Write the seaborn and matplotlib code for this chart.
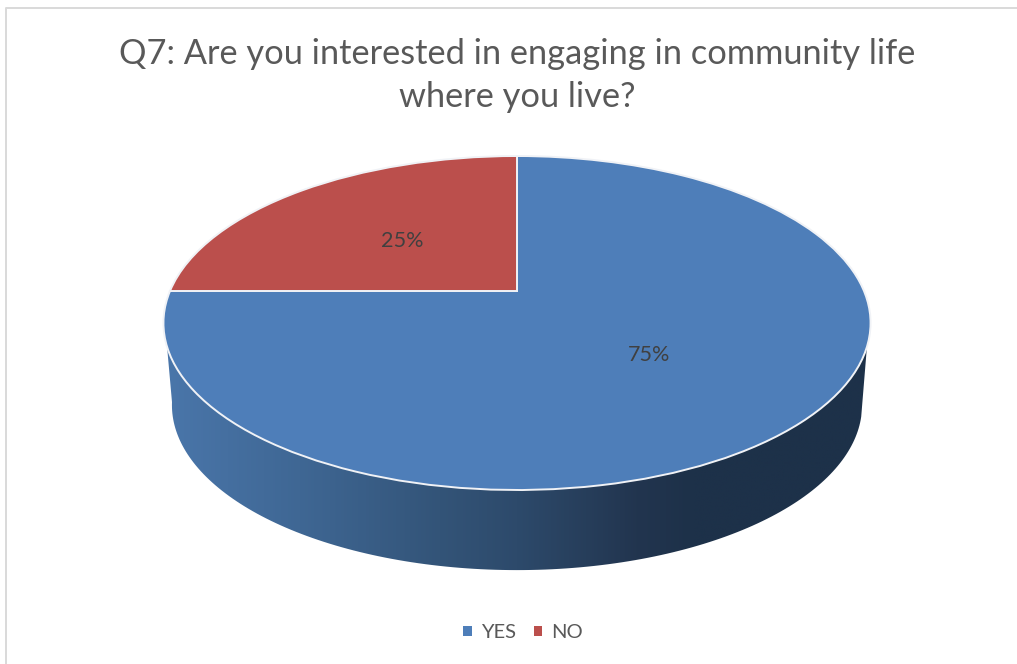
import numpy as np
import matplotlib
matplotlib.use("Agg")
import matplotlib.pyplot as plt
import seaborn as sns
from matplotlib.colors import LinearSegmentedColormap
from matplotlib.patches import Patch, Polygon
from matplotlib.transforms import Affine2D, Transform

categories = ["YES", "NO"]
shares = [75, 25]
chart_title = "Q7: Are you interested in engaging in community life\nwhere you live?"
slice_colors = ["#4e7eb9", "#bb4f4c"]

sns.set_theme(style="white")
plt.rcParams["font.family"] = ["Lato", "DejaVu Sans"]


class PieTilt(Transform):
    """Projects the unit-circle pie onto a tilted plane, in pixel-sized data units."""
    input_dims = 2
    output_dims = 2
    has_inverse = False
    is_separable = False

    def transform_non_affine(self, values):
        u, v = np.asarray(values, dtype=float).T
        w = 1 + 0.1916 * v
        return np.column_stack((517 + 347 * u / w, (291 - 105.1 * v) / w))


tilt = PieTilt()

fig = plt.figure(figsize=(10.17, 6.64), dpi=100, facecolor="white")
ax = fig.add_axes([0, 0, 1, 1])

palette = sns.color_palette(slice_colors)
wedges, _, pct_texts = ax.pie(
    shares,
    colors=palette,
    startangle=90,
    counterclock=False,
    autopct="%d%%",
    pctdistance=0.5,
    wedgeprops={"edgecolor": "#f0f2f6", "linewidth": 1.4, "zorder": 3},
    textprops={"fontsize": 15.6, "color": "#404040", "zorder": 4},
)
for wedge in wedges:
    wedge.set_transform(tilt + ax.transData)
for text in pct_texts:
    text.set_transform(tilt + ax.transData + Affine2D().translate(0, -3))


def rim(degrees):
    angles = np.radians(degrees)
    return tilt.transform_non_affine(np.column_stack((np.cos(angles), np.sin(angles))))


# Side wall of the disc: visible front of the upper rim joined to a lowered copy of it.
upper = rim(np.linspace(199, 341, 160))
lower = rim(np.linspace(345, 190, 160))
lower = np.column_stack((517 + (lower[:, 0] - 517) * 0.976, lower[:, 1] * 0.988 + 86))
wall = Polygon(np.vstack((upper, lower)), closed=True, transform=ax.transData, facecolor="none", edgecolor="none")
ax.add_patch(wall)

shade = LinearSegmentedColormap.from_list(
    "wall_shade",
    [(0.0, "#4a76aa"), (0.19, "#3f6794"), (0.39, "#335478"), (0.50, "#2d4a6b"),
     (0.67, "#22354f"), (0.75, "#1d3149"), (1.0, "#1d3149")],
)
image = ax.imshow(
    np.linspace(0, 1, 512)[None, :],
    cmap=shade,
    extent=(165, 870, 580, 300),
    aspect="auto",
    interpolation="bilinear",
    zorder=2,
)
image.set_clip_path(wall)

ax.set_xlim(0, 1017)
ax.set_ylim(664, 0)
ax.set_aspect("auto")

# Chart area border, visible on the top and left edges only.
ax.plot([6, 6, 1017], [664, 7.5, 7.5], color="#d9d9d9", linewidth=1.4, zorder=1)

ax.text(517, 75.5, chart_title, ha="center", va="center", fontsize=24.75,
        color="#595959", linespacing=1.45, zorder=5)

ax.legend(
    [Patch(facecolor=color, edgecolor="none") for color in palette],
    categories,
    loc="center",
    bbox_to_anchor=(523, 632.5),
    bbox_transform=ax.transData,
    ncol=2,
    frameon=False,
    fontsize=14.5,
    labelcolor="#595959",
    handlelength=0.4,
    handleheight=0.4,
    handletextpad=0.45,
    columnspacing=0.9,
)

fig.savefig("out.png", dpi=100)
